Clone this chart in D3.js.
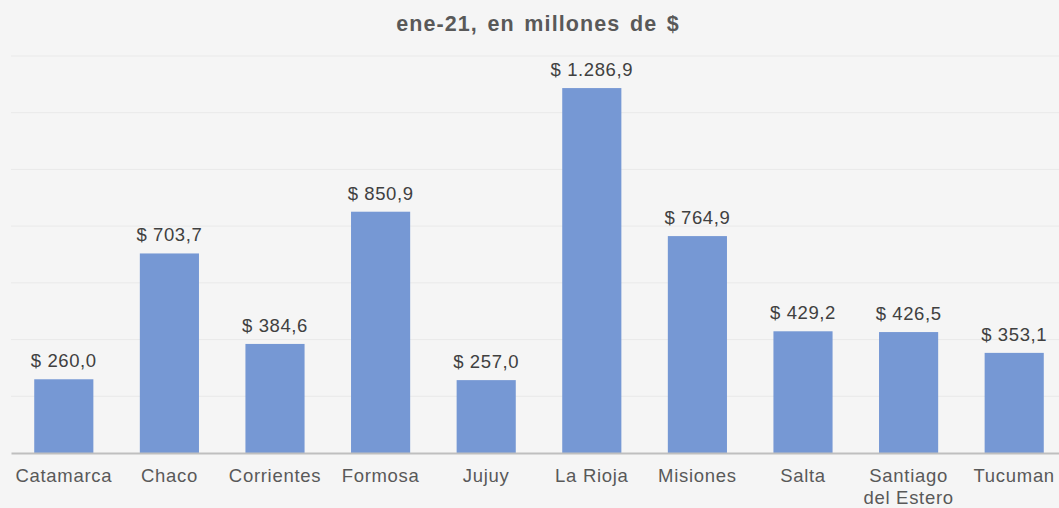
<!DOCTYPE html>
<html>
<head>
<meta charset="utf-8">
<script src="https://cdn.jsdelivr.net/npm/d3@7"></script>
<style>
    body { margin: 0; background: #f5f5f5; }
    #chart text { font-family: "Liberation Sans", Arial, sans-serif; }
</style>
</head>
<body>
<div id="chart"></div>
<script>
const provincias = ['Catamarca', 'Chaco', 'Corrientes', 'Formosa', 'Jujuy', 'La Rioja', 'Misiones', 'Salta', 'Santiago del Estero', 'Tucuman'];
const montos = [260.0, 703.7, 384.6, 850.9, 257.0, 1286.9, 764.9, 429.2, 426.5, 353.1];
const gridTicks = [0, 200, 400, 600, 800, 1000, 1200, 1400];
const titulo = 'ene-21, en millones de $';

const W = 1059, H = 508;
const margin = { top: 56, right: -8, bottom: 55, left: 11 };
const width = W - margin.left - margin.right,
      height = H - margin.top - margin.bottom;

const svg = d3.select('#chart')
    .append('svg')
    .attr('width', W)
    .attr('height', H);

svg.append('rect').attr('width', W).attr('height', H).attr('fill', '#f5f5f5');

svg.append('text')
    .attr('x', 538)
    .attr('y', 31)
    .attr('text-anchor', 'middle')
    .attr('font-size', 21.5)
    .attr('font-weight', 'bold')
    .attr('fill', '#595959')
    .attr('letter-spacing', 1.1)
    .attr('word-spacing', 2.5)
    .text(titulo);

const g = svg.append('g')
    .attr('transform', `translate(${margin.left},${margin.top})`);

const x = d3.scaleBand()
    .domain(provincias)
    .range([0, width])
    .paddingInner(0.44)
    .paddingOuter(0.22);

const y = d3.scaleLinear()
    .domain([0, 1400])
    .range([height, 0]);

// gridlines
g.selectAll('.grid')
    .data(gridTicks.slice(1))
    .enter()
    .append('line')
    .attr('x1', 0)
    .attr('x2', width)
    .attr('y1', d => y(d))
    .attr('y2', d => y(d))
    .attr('stroke', '#e9e9e9')
    .attr('stroke-width', 1);

g.selectAll('.bar')
    .data(provincias)
    .enter()
    .append('rect')
    .attr('x', d => x(d))
    .attr('y', (d, i) => y(montos[i]))
    .attr('width', x.bandwidth())
    .attr('height', (d, i) => height - y(montos[i]))
    .attr('fill', '#7698d4');

const fmt = v => '$ ' + d3.format(',.1f')(v).replace(/,/g, 'X').replace('.', ',').replace(/X/g, '.');

g.selectAll('.val')
    .data(provincias)
    .enter()
    .append('text')
    .attr('x', d => x(d) + x.bandwidth() / 2)
    .attr('y', (d, i) => y(montos[i]) - 12)
    .attr('text-anchor', 'middle')
    .attr('font-size', 18.5)
    .attr('letter-spacing', 0.6)
    .attr('fill', '#404040')
    .text((d, i) => fmt(montos[i]));

// eje x
const xAxis = d3.axisBottom(x).tickSize(0).tickPadding(0);
const ax = g.append('g')
    .attr('transform', `translate(0,${height})`)
    .call(xAxis);
ax.select('.domain').attr('stroke', '#bfbfbf').attr('stroke-width', 2);
ax.selectAll('.tick text').remove();

ax.selectAll('.tick')
    .append('text')
    .attr('text-anchor', 'middle')
    .attr('font-size', 18.5)
    .attr('letter-spacing', 0.7)
    .attr('fill', '#595959')
    .each(function (d) {
        const t = d3.select(this);
        const lines = d === 'Santiago del Estero' ? ['Santiago', 'del Estero'] : [d];
        lines.forEach((l, k) => {
            t.append('tspan').attr('x', 0).attr('y', 29 + k * 22).text(l);
        });
    });
</script>
</body>
</html>
